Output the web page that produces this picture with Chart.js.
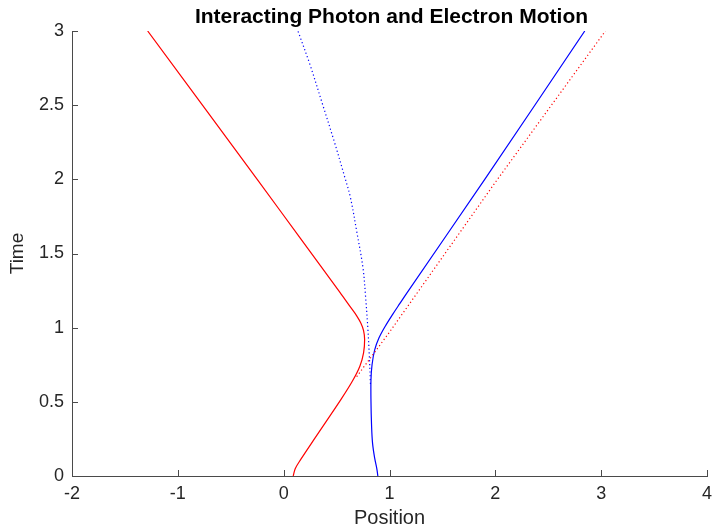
<!DOCTYPE html>
<html>
<head>
<meta charset="utf-8">
<script src="https://cdn.jsdelivr.net/npm/chart.js@4/dist/chart.umd.min.js"></script>
<style>
  html, body { margin: 0; padding: 0; background: #fff; }
  #wrap { width: 712px; height: 528px; }
</style>
</head>
<body>
<div id="wrap"><canvas id="chart" width="712" height="528"></canvas></div>
<script>
// photon (interacting) - red solid
const photonX = [0.09, 0.11, 0.16, 0.30, 0.545, 0.65, 0.72, 0.755, 0.765, 0.755, 0.73, 0.69, 0.63, 0.53, 0.16, -0.25, -1.285];
const photonT = [0, 0.05, 0.11, 0.26, 0.52, 0.64, 0.74, 0.83, 0.92, 0.98, 1.03, 1.08, 1.14, 1.24, 1.6, 2.0, 3.0];

// photon (free) - red dotted
const freePhotonX = [0.69, 1.0, 2.0, 3.04];
const freePhotonT = [0.67, 0.97, 1.98, 3.0];

// electron (interacting) - blue solid
const electronX = [0.89, 0.88, 0.86, 0.84, 0.83, 0.825, 0.825, 0.835, 0.86, 0.90, 0.96, 1.03, 1.10, 1.17, 1.90, 2.845];
const electronT = [0, 0.05, 0.12, 0.22, 0.35, 0.5, 0.65, 0.75, 0.85, 0.93, 1.01, 1.09, 1.165, 1.24, 2.0, 3.0];

// electron (free) - blue dotted
const freeElectronX = [0.82, 0.81, 0.795, 0.775, 0.75, 0.69, 0.63, 0.575, 0.48, 0.37, 0.25, 0.135];
const freeElectronT = [0.62, 0.8, 1.0, 1.2, 1.4, 1.65, 1.88, 2.02, 2.25, 2.5, 2.77, 3.0];

const xTicks = [-2, -1, 0, 1, 2, 3, 4];
const yTicks = [0, 0.5, 1, 1.5, 2, 2.5, 3];

const toPoints = (xs, ts) => xs.map((x, i) => ({ x: x, y: ts[i] }));

const axisColor = '#4a4a4a';
const labelColor = '#262626';
const fontFamily = '"Liberation Sans", Arial, Helvetica, sans-serif';
const titleText = 'Interacting Photon and Electron Motion';

// small inward tick marks like matlab
const inwardTicks = {
  id: 'inwardTicks',
  afterDraw(chart) {
    const { ctx, chartArea, scales } = chart;
    ctx.save();
    ctx.strokeStyle = axisColor;
    ctx.lineWidth = 1;
    ctx.beginPath();
    xTicks.forEach(v => {
      const px = Math.round(scales.x.getPixelForValue(v)) + 0.5;
      ctx.moveTo(px, chartArea.bottom);
      ctx.lineTo(px, chartArea.bottom - 6);
    });
    yTicks.forEach(v => {
      const py = Math.round(scales.y.getPixelForValue(v)) + 0.5;
      ctx.moveTo(chartArea.left, py);
      ctx.lineTo(chartArea.left + 6, py);
    });
    ctx.stroke();

    // title centred over the plot area
    ctx.fillStyle = '#000';
    ctx.font = 'bold 21px ' + fontFamily;
    ctx.textAlign = 'center';
    ctx.textBaseline = 'middle';
    ctx.fillText(titleText, (chartArea.left + chartArea.right) / 2 + 2, 17);
    ctx.restore();
  }
};

new Chart(document.getElementById('chart').getContext('2d'), {
  type: 'scatter',
  data: {
    datasets: [
      {
        label: 'Photon',
        data: toPoints(photonX, photonT),
        showLine: true,
        borderColor: '#ff0000',
        borderWidth: 1.2,
        pointRadius: 0,
        tension: 0.35
      },
      {
        label: 'Free photon',
        data: toPoints(freePhotonX, freePhotonT),
        showLine: true,
        borderColor: '#ff0000',
        borderWidth: 1.2,
        borderDash: [1.2, 2.6],
        pointRadius: 0,
        tension: 0
      },
      {
        label: 'Electron',
        data: toPoints(electronX, electronT),
        showLine: true,
        borderColor: '#0000ff',
        borderWidth: 1.2,
        pointRadius: 0,
        tension: 0.35
      },
      {
        label: 'Free electron',
        data: toPoints(freeElectronX, freeElectronT),
        showLine: true,
        borderColor: '#0000ff',
        borderWidth: 1.2,
        borderDash: [1.2, 2.6],
        pointRadius: 0,
        tension: 0.35
      }
    ]
  },
  options: {
    responsive: false,
    animation: false,
    layout: { padding: { left: 0, right: 5, top: 31, bottom: 0 } },
    plugins: {
      legend: { display: false },
      tooltip: { enabled: false },
      title: { display: false }
    },
    scales: {
      x: {
        type: 'linear',
        min: -2,
        max: 4,
        afterBuildTicks: s => { s.ticks = xTicks.map(v => ({ value: v })); },
        afterFit: s => { s.height = 52; s.paddingRight = 0; s.paddingLeft = 0; },
        grid: { display: true, drawOnChartArea: false, drawTicks: false },
        border: { display: true, color: axisColor, width: 1 },
        ticks: {
          color: labelColor,
          padding: 7,
          font: { family: fontFamily, size: 18 },
          maxRotation: 0,
          callback: v => String(v)
        },
        title: {
          display: true,
          text: 'Position',
          color: labelColor,
          font: { family: fontFamily, size: 20, lineHeight: 1.0 },
          padding: { top: 0, bottom: 0 }
        }
      },
      y: {
        type: 'linear',
        min: 0,
        max: 3,
        afterBuildTicks: s => { s.ticks = yTicks.map(v => ({ value: v })); },
        afterFit: s => { s.width = 72; },
        grid: { display: true, drawOnChartArea: false, drawTicks: false },
        border: { display: true, color: axisColor, width: 1 },
        ticks: {
          color: labelColor,
          padding: 8,
          font: { family: fontFamily, size: 18 },
          callback: v => String(v)
        },
        title: {
          display: true,
          text: 'Time',
          color: labelColor,
          font: { family: fontFamily, size: 19, lineHeight: 1.2 },
          padding: { top: 6, bottom: 0 }
        }
      }
    }
  },
  plugins: [inwardTicks]
});
</script>
</body>
</html>
